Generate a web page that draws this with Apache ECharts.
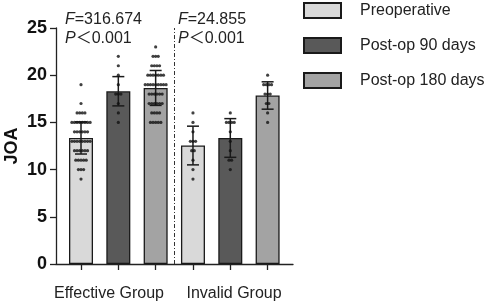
<!DOCTYPE html>
<html>
<head>
<meta charset="utf-8">
<script src="https://cdn.jsdelivr.net/npm/echarts@6/dist/echarts.min.js"></script>
<style>
  html, body { margin: 0; padding: 0; background: #fff; }
  #container { width: 487px; height: 305px; }
</style>
</head>
<body>
<div id="container"></div>
<script>
  // groups and series
  var groups = ['Effective Group', 'Invalid Group'];
  var seriesNames = ['Preoperative', 'Post-op 90 days', 'Post-op 180 days'];
  var yTicks = [0, 5, 10, 15, 20, 25];

  // mean and SD per series: [Effective, Invalid]
  var preMean = [13.35, 12.55];
  var preSd = [1.7, 2.05];
  var d90Mean = [18.3, 13.35];
  var d90Sd = [1.55, 2.05];
  var d180Mean = [18.65, 17.85];
  var d180Sd = [1.85, 1.45];

  // individual JOA scores
  var effPre = [19, 17, 16, 16, 16, 16, 15, 15, 15, 15, 15, 15, 15, 15, 14, 14, 14, 14, 14, 14,
    13, 13, 13, 13, 13, 13, 13, 13, 12, 12, 12, 12, 12, 12, 11, 11, 11, 11, 11, 10, 10, 10, 9];
  var eff90 = [22, 21, 20, 19, 18, 18, 18, 17, 16, 15];
  var eff180 = [23, 22, 22, 22, 21, 21, 21, 21, 20, 20, 20, 20, 20, 20, 20,
    19, 19, 19, 19, 19, 19, 19, 19, 19, 18, 18, 18, 18, 18, 18,
    17, 17, 17, 17, 17, 17, 16, 16, 16, 16, 15, 15, 15, 15, 15];
  var invPre = [16, 15, 14, 13, 13, 13, 12, 12, 11, 10, 9];
  var inv90 = [16, 15, 15, 15, 15, 14, 13, 12, 11, 11, 10];
  var inv180 = [20, 19, 19, 19, 19, 18, 18, 18, 17, 17, 16, 15];

  var fills = ['#d9d9d9', '#595959', '#a3a3a3'];
  var means = [preMean, d90Mean, d180Mean];
  var sds = [preSd, d90Sd, d180Sd];
  var points = [[effPre, invPre], [eff90, inv90], [eff180, inv180]];

  var font = '"Liberation Sans", Arial, "Noto Sans CJK SC"';

  // spread repeated values sideways like a GraphPad scatter
  function spread(values, center) {
    var counts = {}, seen = {}, out = [];
    values.forEach(function (v) { counts[v] = (counts[v] || 0) + 1; });
    values.forEach(function (v) {
      var k = seen[v] || 0;
      seen[v] = k + 1;
      out.push([center + (k - (counts[v] - 1) / 2) * 0.07, v]);
    });
    return out;
  }

  var series = [];
  seriesNames.forEach(function (name, s) {
    series.push({
      name: name,
      type: 'bar',
      barWidth: 24,
      barGap: '-100%',
      z: 2,
      itemStyle: { color: fills[s], borderColor: '#1a1a1a', borderWidth: 1.3 },
      data: groups.map(function (g, i) { return [i * 3 + s, means[s][i]]; })
    });
  });
  seriesNames.forEach(function (name, s) {
    series.push({
      type: 'custom',
      z: 3,
      silent: true,
      data: groups.map(function (g, i) {
        return [i * 3 + s, means[s][i] - sds[s][i], means[s][i] + sds[s][i]];
      }),
      renderItem: function (params, api) {
        var lo = api.coord([api.value(0), api.value(1)]);
        var hi = api.coord([api.value(0), api.value(2)]);
        var st = { stroke: '#1a1a1a', lineWidth: 1.5 };
        return {
          type: 'group',
          children: [
            { type: 'line', shape: { x1: lo[0], y1: lo[1], x2: hi[0], y2: hi[1] }, style: st },
            { type: 'line', shape: { x1: lo[0] - 6, y1: lo[1], x2: lo[0] + 6, y2: lo[1] }, style: st },
            { type: 'line', shape: { x1: hi[0] - 6, y1: hi[1], x2: hi[0] + 6, y2: hi[1] }, style: st }
          ]
        };
      }
    });
    series.push({
      type: 'scatter',
      z: 4,
      silent: true,
      symbolSize: 3.2,
      itemStyle: { color: '#111' },
      data: spread(points[s][0], s).concat(spread(points[s][1], 3 + s))
    });
  });
  // divider between groups
  series[0].markLine = {
    silent: true,
    symbol: 'none',
    label: { show: false },
    lineStyle: { color: '#333', width: 1, type: [4, 2, 1, 2] },
    data: [[{ coord: [2.5, 0] }, { coord: [2.5, 25] }]]
  };

  var myChart = echarts.init(document.getElementById('container'));
  var option = {
    animation: false,
    grid: { left: 56, right: 194, top: 28, bottom: 41, outerBoundsMode: 'none' },
    legend: {
      orient: 'vertical',
      left: 303,
      top: 2,
      padding: 0,
      itemWidth: 37,
      itemHeight: 15,
      itemGap: 18,
      icon: 'rect',
      data: seriesNames,
      textStyle: { fontFamily: font, fontSize: 16, color: '#222', padding: [0, 0, 0, 14] }
    },
    graphic: [
      {
        type: 'text', left: 65, top: 10,
        style: {
          text: '{i|F}=316.674\n{i|P}＜0.001',
          font: '16px ' + font, fill: '#222', lineHeight: 19,
          rich: { i: { fontStyle: 'italic', fontFamily: font, fontSize: 16 } }
        }
      },
      {
        type: 'text', left: 178, top: 10,
        style: {
          text: '{i|F}=24.855\n{i|P}＜0.001',
          font: '16px ' + font, fill: '#222', lineHeight: 19,
          rich: { i: { fontStyle: 'italic', fontFamily: font, fontSize: 16 } }
        }
      }
    ],
    xAxis: {
      type: 'value',
      min: -0.67,
      max: 5.68,
      splitLine: { show: false },
      axisLine: { lineStyle: { color: '#222', width: 1.3 } },
      axisTick: { length: 6, lineStyle: { color: '#222', width: 1.3 }, customValues: [0, 1, 2, 3, 4, 5] },
      axisLabel: {
        customValues: [0.75, 4.1],
        margin: 22,
        fontFamily: font,
        fontSize: 16,
        color: '#222',
        formatter: function (v) { return v < 2.5 ? groups[0] : groups[1]; }
      }
    },
    yAxis: {
      type: 'value',
      min: 0,
      max: 25,
      interval: 5,
      name: 'JOA',
      nameLocation: 'middle',
      nameGap: 35,
      nameTextStyle: { fontFamily: font, fontSize: 18, fontWeight: 'bold', color: '#111' },
      splitLine: { show: false },
      axisLine: { show: true, onZero: false, lineStyle: { color: '#222', width: 1.3 } },
      axisTick: { show: true, length: 6, lineStyle: { color: '#222', width: 1.3 } },
      axisLabel: {
        margin: 9,
        fontFamily: font,
        fontSize: 18,
        fontWeight: 'bold',
        color: '#111',
        formatter: function (v) { return yTicks.indexOf(v) >= 0 ? String(v) : ''; }
      }
    },
    series: series
  };
  myChart.setOption(option, true);
</script>
</body>
</html>
